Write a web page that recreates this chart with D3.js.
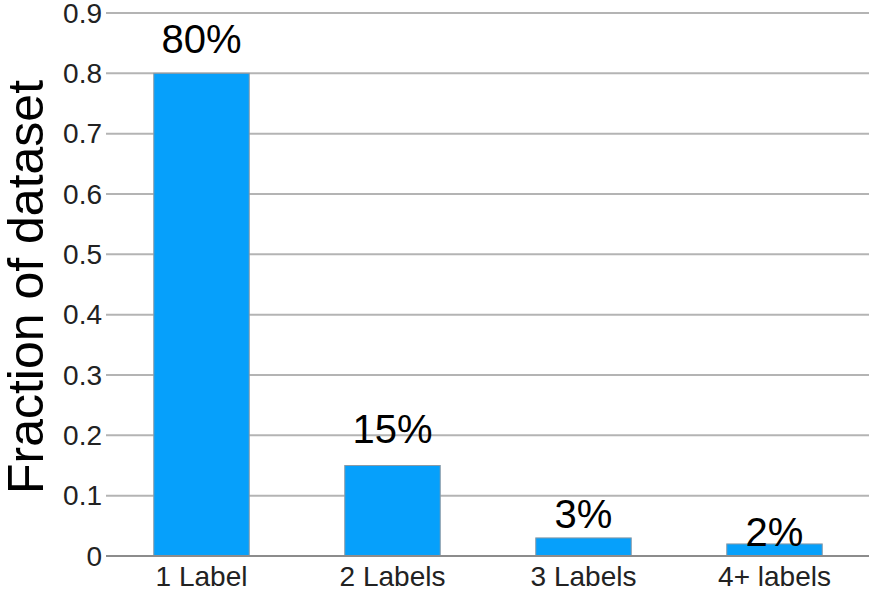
<!doctype html>
<html lang="en">
<head>
<meta charset="utf-8">
<title>Fraction of dataset by label count</title>
<script src="https://cdn.jsdelivr.net/npm/d3@7"></script>
<style>
  body { margin: 0; background: #fff; }
  svg { display: block; font-family: "Liberation Sans", Arial, sans-serif; }
</style>
</head>
<body>
<div id="chart"></div>
<script>

const categories = ['1 Label', '2 Labels', '3 Labels', '4+ labels'];
const fractions = [0.80, 0.15, 0.03, 0.02];
const valueLabels = ['80%', '15%', '3%', '2%'];
const yTicks = [0, 0.1, 0.2, 0.3, 0.4, 0.5, 0.6, 0.7, 0.8, 0.9];

const width = 869, height = 593;
const margin = {top: 13, right: -1, bottom: 37, left: 106};

const svg = d3.select('#chart').append('svg')
    .attr('width', width)
    .attr('height', height);

const x = d3.scaleBand()
    .domain(categories)
    .range([margin.left, width - margin.right])
    .paddingInner(0.5)
    .paddingOuter(0.25);

const y = d3.scaleLinear()
    .domain([0, 0.9])
    .range([height - margin.bottom, margin.top]);

// gridlines
svg.append('g')
    .selectAll('line')
    .data(yTicks.filter(d => d > 0))
    .join('line')
    .attr('x1', margin.left)
    .attr('x2', width)
    .attr('y1', d => y(d))
    .attr('y2', d => y(d))
    .attr('stroke', '#b4b4b4')
    .attr('stroke-width', 2);

// y tick labels
svg.append('g')
    .selectAll('text')
    .data(yTicks)
    .join('text')
    .attr('x', margin.left - 4)
    .attr('y', d => y(d))
    .attr('dy', '0.35em')
    .attr('text-anchor', 'end')
    .style('font-size', '28px')
    .style('fill', '#222')
    .text(d => d === 0 ? '0' : d3.format('.1f')(d));

// bars
svg.append('g')
    .selectAll('rect')
    .data(fractions)
    .join('rect')
    .attr('x', (d, i) => x(categories[i]))
    .attr('width', x.bandwidth())
    .attr('y', d => y(d))
    .attr('height', d => y(0) - y(d))
    .attr('fill', '#06a0fb')
    .attr('stroke', '#8a9aa6')
    .attr('stroke-width', 1);

// baseline
svg.append('line')
    .attr('x1', margin.left)
    .attr('x2', width)
    .attr('y1', y(0))
    .attr('y2', y(0))
    .attr('stroke', '#8c8c8c')
    .attr('stroke-width', 2);

// x category labels
svg.append('g')
    .selectAll('text')
    .data(categories)
    .join('text')
    .attr('x', d => x(d) + x.bandwidth() / 2)
    .attr('y', 586)
    .attr('text-anchor', 'middle')
    .style('font-size', '28px')
    .style('fill', '#222')
    .text(d => d);

// value labels (placed by hand in the original, so lift varies)
const labelLift = [20, 23, 10, -2];
svg.append('g')
    .selectAll('text')
    .data(fractions)
    .join('text')
    .attr('x', (d, i) => x(categories[i]) + x.bandwidth() / 2)
    .attr('y', (d, i) => y(d) - labelLift[i])
    .attr('text-anchor', 'middle')
    .style('font-size', '40px')
    .style('fill', '#000')
    .text((d, i) => valueLabels[i]);

// y axis title
svg.append('text')
    .attr('transform', 'translate(43,' + 287 + ') rotate(-90)')
    .attr('text-anchor', 'middle')
    .style('font-size', '50px')
    .style('fill', '#000')
    .text('Fraction of dataset');

</script>
</body>
</html>
